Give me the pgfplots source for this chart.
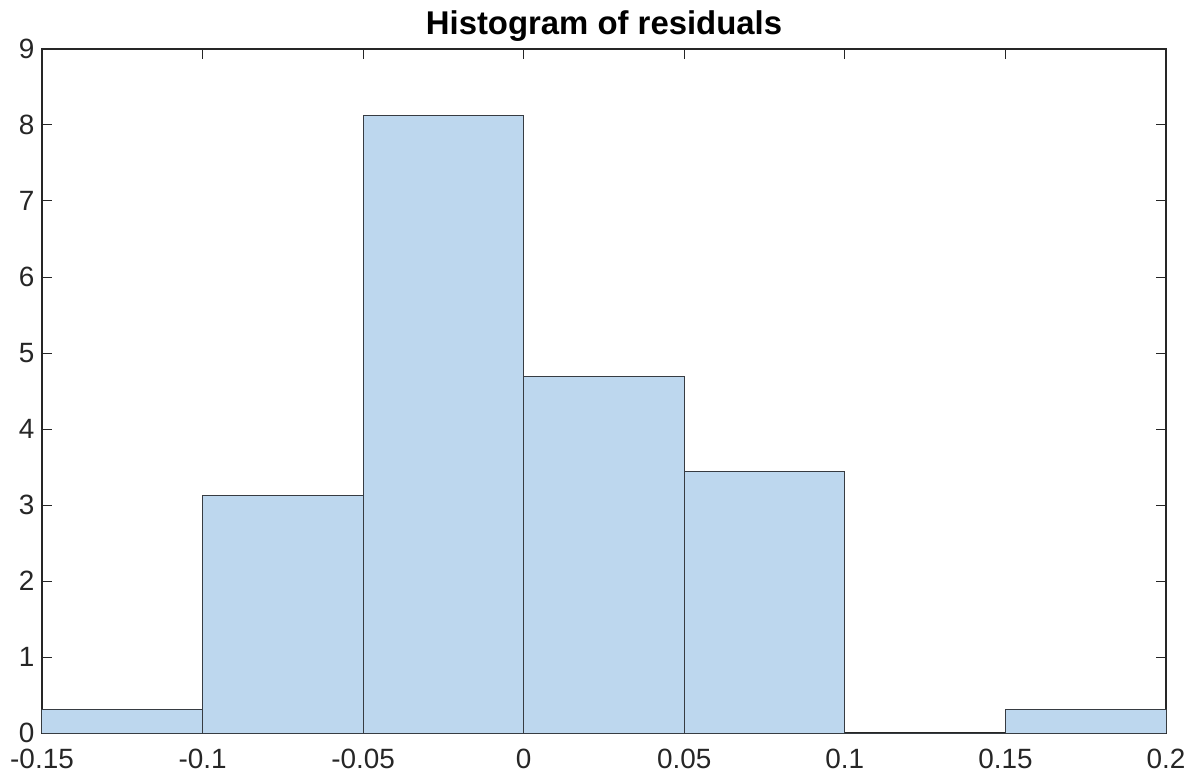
\documentclass[border=0pt]{standalone}
\usepackage{fontspec}
\setmainfont{Liberation Sans}
\usepackage{pgfplots}
\pgfplotsset{compat=1.18}
\definecolor{barfill}{RGB}{189,215,238}
\definecolor{baredge}{RGB}{55,60,66}
\definecolor{axcol}{RGB}{38,38,38}
\begin{document}
\begin{tikzpicture}
\begin{axis}[
  scale only axis,
  width=1124bp, height=684bp,
  xmin=-0.15, xmax=0.2, ymin=0, ymax=9,
  xtick={-0.15,-0.1,-0.05,0,0.05,0.1,0.15,0.2},
  xticklabels={-0.15,-0.1,-0.05,0,0.05,0.1,0.15,0.2},
  ytick={0,1,2,3,4,5,6,7,8,9},
  yticklabels={0,1,2,3,4,5,6,7,8,9},
  scaled x ticks=false,
  tick align=inside,
  major tick length=10bp,
  every tick/.style={axcol, line width=1bp},
  axis line style={axcol, line width=1.3bp},
  tick label style={font=\fontsize{28}{32}\selectfont, text=axcol},
  xticklabel style={yshift=-12bp},
  yticklabel style={xshift=-4bp},
  title={Histogram of residuals},
  title style={font=\fontsize{33}{36}\selectfont\bfseries, at={(0.5,1)}, anchor=base, yshift=9bp},
]
\addplot[ybar interval, fill=barfill, draw=baredge, line width=1bp]
coordinates {
(-0.15,0.3125)
(-0.10,3.125)
(-0.05,8.125)
(0.00,4.6875)
(0.05,3.4375)
(0.10,0)
(0.15,0.3125)
(0.20,0.3125)
};
\end{axis}
\path ([xshift=-42bp,yshift=-48bp]current axis.south west) rectangle ([xshift=33bp,yshift=49bp]current axis.north east);
\end{tikzpicture}
\end{document}
